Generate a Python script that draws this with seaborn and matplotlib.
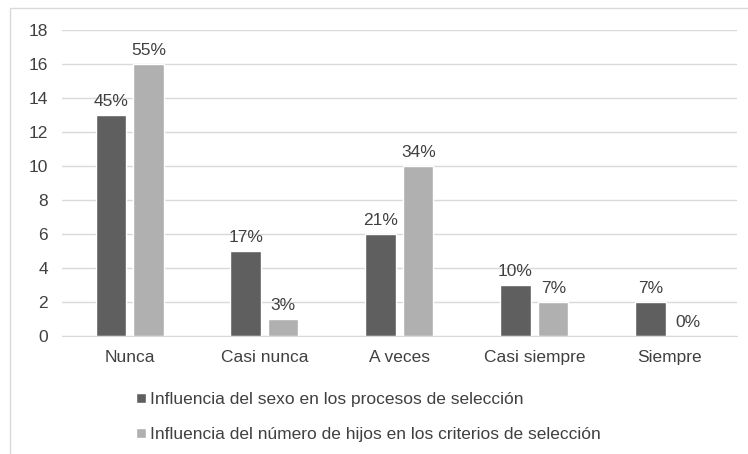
import pandas as pd
import numpy as np
import matplotlib
matplotlib.use("Agg")
import matplotlib.pyplot as plt
import seaborn as sns
from matplotlib.patches import Rectangle

# data
categorias = ['Nunca', 'Casi nunca', 'A veces', 'Casi siempre', 'Siempre']
serie_sexo = 'Influencia del sexo en los procesos de selección'
serie_hijos = 'Influencia del número de hijos en los criterios de selección'
valores_sexo = [13, 5, 6, 3, 2]
valores_hijos = [16, 1, 10, 2, 0]
etiquetas_sexo = ['45%', '17%', '21%', '10%', '7%']
etiquetas_hijos = ['55%', '3%', '34%', '7%', '0%']

df = pd.DataFrame({
    'categoria': categorias * 2,
    'serie': [serie_sexo] * 5 + [serie_hijos] * 5,
    'valor': valores_sexo + valores_hijos,
})

sns.set_style('white')
plt.rcParams['font.family'] = ['Liberation Sans', 'DejaVu Sans']
texto = '#404040'
fs = 12.5

fig = plt.figure(figsize=(7.48, 4.54), dpi=100)
ax = fig.add_axes([0.083, 0.26, 0.902, 0.674])

sns.barplot(data=df, x='categoria', y='valor', hue='serie',
            palette=['#5f5f5f', '#b0b0b0'], width=0.56, gap=0.2,
            ax=ax, legend=True, saturation=1)

# value labels
for cont, etiquetas in zip(ax.containers, [etiquetas_sexo, etiquetas_hijos]):
    ax.bar_label(cont, labels=etiquetas, padding=4, fontsize=fs, color=texto)

ax.set_ylim(0, 18)
ax.set_yticks(range(0, 19, 2))
ax.set_xlim(-0.5, 4.5)
ax.yaxis.grid(True, color='#d9d9d9', linewidth=1)
ax.set_axisbelow(True)
for s in ['top', 'right', 'left']:
    ax.spines[s].set_visible(False)
ax.spines['bottom'].set_color('#d9d9d9')
ax.tick_params(axis='both', length=0, labelsize=fs, labelcolor=texto)
ax.tick_params(axis='y', pad=10)
ax.tick_params(axis='x', pad=10)
ax.set_xlabel('')
ax.set_ylabel('')

# legend below
handles, labels = ax.get_legend_handles_labels()
ax.get_legend().remove()
fig.legend(handles, labels, loc='upper left', bbox_to_anchor=(0.173, 0.151),
           ncol=1, frameon=False, fontsize=fs, labelcolor=texto,
           handlelength=0.55, handleheight=0.55, handletextpad=0.25,
           labelspacing=1.15, borderaxespad=0)

# light border around the chart area
fig.patches.append(Rectangle((10 / 748, -0.1), 1.2, 1 - 8 / 454 + 0.1,
                             transform=fig.transFigure, fill=False,
                             edgecolor='#d9d9d9', linewidth=1))

fig.savefig('out.png', dpi=100)
